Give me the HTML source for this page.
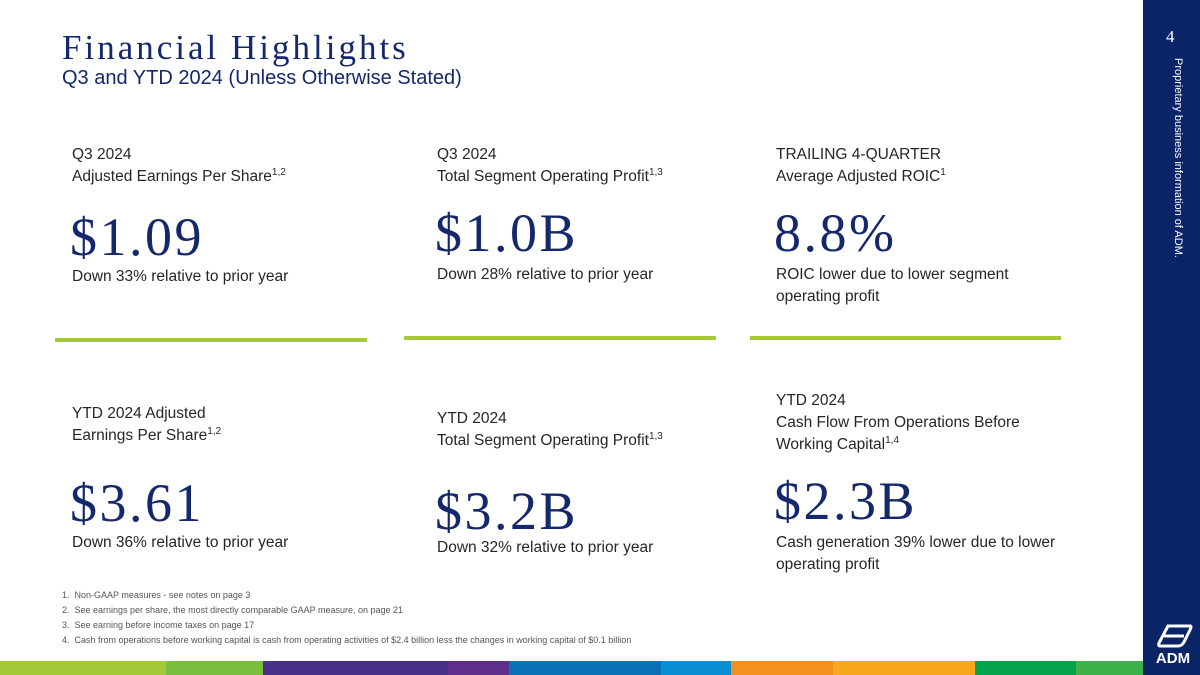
<!DOCTYPE html>
<html><head><meta charset="utf-8"><style>
body{margin:0;width:1200px;height:675px;position:relative;background:#fff;overflow:hidden;font-family:"Liberation Sans",sans-serif;color:#333}
.a{position:absolute;white-space:nowrap}
.t{font-size:15.5px;line-height:22px;color:#262626}
.big{font-family:"Liberation Serif",serif;font-size:54px;color:#14286b;line-height:50px;letter-spacing:2.5px}
.g{position:absolute;height:4px;background:#a6c93a}
sup{font-size:10px;line-height:0}
.fn{font-size:9px;color:#555;left:62px}
.seg{position:absolute;top:661px;height:14px}
</style></head><body>
<div class="a" style="left:62px;top:28px;font-family:'Liberation Serif',serif;font-size:35px;letter-spacing:3px;color:#14286b">Financial Highlights</div>
<div class="a" style="left:62px;top:67px;font-size:20px;color:#14286b">Q3 and YTD 2024 (Unless Otherwise Stated)</div>

<div class="a t" style="left:72px;top:144px">Q3 2024<br>Adjusted Earnings Per Share<sup>1,2</sup></div>
<div class="a big" style="left:70px;top:212px">$1.09</div>
<div class="a t" style="left:72px;top:266px">Down 33% relative to prior year</div>

<div class="a t" style="left:437px;top:144px">Q3 2024<br>Total Segment Operating Profit<sup>1,3</sup></div>
<div class="a big" style="left:435px;top:208px">$1.0B</div>
<div class="a t" style="left:437px;top:264px">Down 28% relative to prior year</div>

<div class="a t" style="left:776px;top:144px">TRAILING 4-QUARTER<br>Average Adjusted ROIC<sup>1</sup></div>
<div class="a big" style="left:774px;top:208px">8.8%</div>
<div class="a t" style="left:776px;top:264px">ROIC lower due to lower segment<br>operating profit</div>

<div class="g" style="left:55px;top:338px;width:312px"></div>
<div class="g" style="left:404px;top:336px;width:312px"></div>
<div class="g" style="left:750px;top:336px;width:311px"></div>

<div class="a t" style="left:72px;top:403px">YTD 2024 Adjusted<br>Earnings Per Share<sup>1,2</sup></div>
<div class="a big" style="left:70px;top:478px">$3.61</div>
<div class="a t" style="left:72px;top:532px">Down 36% relative to prior year</div>

<div class="a t" style="left:437px;top:408px">YTD 2024<br>Total Segment Operating Profit<sup>1,3</sup></div>
<div class="a big" style="left:435px;top:486px">$3.2B</div>
<div class="a t" style="left:437px;top:537px">Down 32% relative to prior year</div>

<div class="a t" style="left:776px;top:390px">YTD 2024<br>Cash Flow From Operations Before<br>Working Capital<sup>1,4</sup></div>
<div class="a big" style="left:774px;top:476px">$2.3B</div>
<div class="a t" style="left:776px;top:532px">Cash generation 39% lower due to lower<br>operating profit</div>

<div class="a fn" style="top:590px">1.&nbsp; Non-GAAP measures - see notes on page 3</div>
<div class="a fn" style="top:605px">2.&nbsp; See earnings per share, the most directly comparable GAAP measure, on page 21</div>
<div class="a fn" style="top:620px">3.&nbsp; See earning before income taxes on page 17</div>
<div class="a fn" style="top:635px">4.&nbsp; Cash from operations before working capital is cash from operating activities of $2.4 billion less the changes in working capital of $0.1 billion</div>

<div class="seg" style="left:0;width:166px;background:#a3c939"></div>
<div class="seg" style="left:166px;width:97px;background:#7bbf3f"></div>
<div class="seg" style="left:263px;width:185px;background:#46308a"></div>
<div class="seg" style="left:448px;width:61px;background:#5f2d8c"></div>
<div class="seg" style="left:509px;width:152px;background:#0a71b6"></div>
<div class="seg" style="left:661px;width:70px;background:#0a8ed3"></div>
<div class="seg" style="left:731px;width:102px;background:#f5901f"></div>
<div class="seg" style="left:833px;width:142px;background:#f7a81c"></div>
<div class="seg" style="left:975px;width:101px;background:#04a24b"></div>
<div class="seg" style="left:1076px;width:67px;background:#3fb14b"></div>

<div class="a" style="left:1143px;top:0;width:57px;height:675px;background:#0b2367"></div>
<div class="a" style="left:1166px;top:27px;font-family:'Liberation Serif',serif;font-size:17px;color:#fff">4</div>
<div class="a" style="left:1172px;top:58px;font-size:11px;color:#fff;transform-origin:0 0;transform:translateX(12px) rotate(90deg)">Proprietary business information of ADM.</div>
<svg class="a" style="left:1150px;top:622px" width="46" height="42">
<path d="M18 4 L40 4 Q42 4 40 8 L34 20 Q32 24 28 24 L10 24 Q8 24 9 21 Z" fill="none" stroke="#fff" stroke-width="3"/>
<path d="M14 14 L34 14" stroke="#fff" stroke-width="3"/>
<text x="23" y="41" text-anchor="middle" font-family="Liberation Sans" font-weight="bold" font-size="15" fill="#fff">ADM</text>
</svg>
</body></html>
